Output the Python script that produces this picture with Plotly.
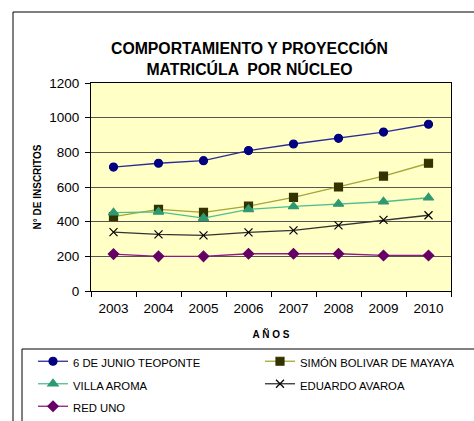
import plotly.graph_objects as go

years = ["2003", "2004", "2005", "2006", "2007", "2008", "2009", "2010"]
junio = [715, 737, 752, 810, 848, 881, 917, 962]
simon = [429, 471, 454, 490, 540, 600, 663, 737]
villa = [452, 456, 421, 471, 488, 502, 515, 538]
eduardo = [340, 327, 321, 338, 350, 379, 410, 437]
reduno = [213, 200, 200, 215, 215, 215, 205, 205]

series = [
    ("6 DE JUNIO TEOPONTE", junio, "#2B2B99", "#000080", "circle", 8),
    ("SIMÓN BOLIVAR DE MAYAYA", simon, "#A5A53A", "#333300", "square", 8),
    ("VILLA AROMA", villa, "#4DBF8F", "#2E9970", "triangle-up", 9),
    ("EDUARDO AVAROA", eduardo, "#333333", "#000000", "x-thin-open", 8),
    ("RED UNO", reduno, "#8B1A8B", "#660066", "diamond", 8),
]

fig = go.Figure()
for name, vals, lc, mc, sym, ms in series:
    fig.add_trace(go.Scatter(
        x=years, y=vals, mode="lines+markers",
        name='<span style="font-size:11.3px">' + name + "</span>",
        line=dict(color=lc, width=1.3),
        marker=dict(symbol=sym, size=ms, color=mc, line=dict(color=mc, width=1.2)),
    ))

W, H = 474, 421
L, R, T, B = 91, 23, 83, 130
pw, ph = W - L - R, H - T - B


def px(x):
    return (x - L) / pw


def py(y):
    return (H - B - y) / ph


fig.update_layout(
    width=W, height=H,
    margin=dict(l=L, r=R, t=T, b=B, autoexpand=False),
    paper_bgcolor="white",
    plot_bgcolor="#FFFFC6",
    font=dict(family="Liberation Sans, Arial, sans-serif", color="#000000"),
    title=dict(
        text="<b>COMPORTAMIENTO Y PROYECCIÓN<br>MATRICÚLA  POR NÚCLEO</b>",
        x=249.5 / W, xref="container", xanchor="center",
        y=1 - 54 / H, yref="container", yanchor="middle",
        font=dict(size=15.8, color="#000000"),
    ),
    xaxis=dict(
        type="category", range=[-0.5, 7.5], automargin=False,
        tickson="boundaries", ticks="outside", ticklen=5, tickcolor="#000",
        ticklabelstandoff=5,
        showline=True, linecolor="#000", linewidth=1, mirror=True,
        showgrid=False,
        tickfont=dict(size=13.5),
        title=dict(text="<b>A Ñ O S</b>", font=dict(size=10), standoff=15),
    ),
    yaxis=dict(
        range=[0, 1200], dtick=200, ticks="outside", ticklen=5, tickcolor="#000",
        automargin=False, ticklabelstandoff=3,
        showline=True, linecolor="#000", linewidth=1, mirror=True,
        showgrid=True, gridcolor="#555555", gridwidth=1,
        zeroline=False,
        tickfont=dict(size=13.5),
        title=dict(text="<b>N° DE INSCRITOS</b>", font=dict(size=10), standoff=5),
    ),
    showlegend=True,
    legend=dict(
        orientation="h",
        x=px(33), xanchor="left",
        y=py(345), yanchor="top",
        entrywidth=182, entrywidthmode="pixels",
        font=dict(size=15),
        bgcolor="rgba(0,0,0,0)",
    ),
    shapes=[
        dict(type="rect", xref="paper", yref="paper",
             x0=px(13), x1=px(490), y0=py(440), y1=py(12),
             line=dict(color="#000", width=1), fillcolor="rgba(0,0,0,0)", layer="below"),
        dict(type="rect", xref="paper", yref="paper",
             x0=px(22), x1=px(490), y0=py(440), y1=py(349),
             line=dict(color="#000", width=1), fillcolor="rgba(0,0,0,0)", layer="below"),
    ],
)

fig.write_html("out.html", config={"displayModeBar": False},
               post_script="document.body.style.margin='0px';")
